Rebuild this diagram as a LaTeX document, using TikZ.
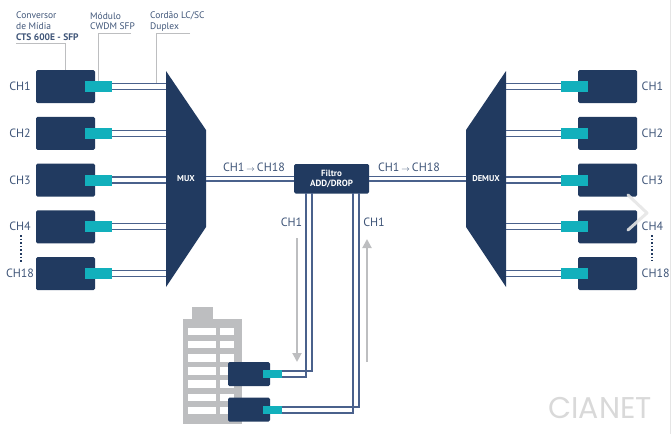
\documentclass[tikz,border=0pt]{standalone}
\usepackage{fontspec}
\setmainfont{PT Sans}
\newfontfamily\logofont{Poppins}
\usetikzlibrary{arrows.meta}
\definecolor{navy}{HTML}{213A60}
\definecolor{teal}{HTML}{12B0BC}
\definecolor{fiber}{HTML}{4A618C}
\definecolor{label}{HTML}{3F5578}
\definecolor{lead}{HTML}{BDBEC0}
\tikzset{
	conv/.style = {fill=navy, rounded corners=1.5, minimum width=59, minimum height=33, inner sep=0},
	smallconv/.style = {fill=navy, rounded corners=1.5, minimum width=42, minimum height=24, inner sep=0},
	sfp/.style = {fill=teal, minimum width=27, minimum height=11, inner sep=0},
	smallsfp/.style = {fill=teal, minimum width=19, minimum height=8, inner sep=0},
	fib/.style = {draw=fiber, line width=1.4},
	leader/.style = {draw=lead, line width=0.9},
	flow/.style = {draw=lead, line width=2, -{Triangle[length=9, width=9]}},
	chan/.style = {text=label, font=\fontsize{12}{14}\selectfont, inner sep=0},
	note/.style = {text=label, font=\fontsize{9.5}{10.5}\selectfont, align=left, anchor=north west, inner sep=0},
	white label/.style = {text=white, font=\bfseries\fontsize{8.5}{10.5}\selectfont, align=center, inner sep=0},
}
\begin{document}
\begin{tikzpicture}[x=1pt, y=-1pt]
	\useasboundingbox (0, 0) rectangle (671, 434);
	% building
	\fill [lead] (192, 307) rectangle (213, 320);
	\fill [lead] (183, 319) rectangle (242, 424);
	\foreach \r in {0,...,6}
	{
		\fill [white] (188, 328 + 13.1*\r) rectangle ++(28, 7.3);
		\fill [white] (220, 328 + 13.1*\r) rectangle ++(13.5, 7.3);
	}
	% mux and demux
	\fill [navy] (166, 71) -- (206, 130) -- (206, 227) -- (166, 287) -- cycle;
	\fill [navy] (506, 71) -- (466, 130) -- (466, 227) -- (506, 287) -- cycle;
	\coordinate (muxin) at (166, 178);
	\coordinate (muxout) at (206, 178);
	\coordinate (demuxin) at (466, 178);
	\coordinate (demuxout) at (506, 178);
	\node [white label] (muxname) at (186, 178.5) {MUX};
	\node [white label] (demuxname) at (486, 178.5) {DEMUX};
	% channels
	\foreach [count=\i] \y/\ch in {86.5/CH1, 133.25/CH2, 180/CH3, 226.75/CH4, 273.5/CH18}
	{
		\node [conv] (left\i) at (65.5, \y) {};
		\node [sfp] (lsfp\i) at (98.5, \y) {};
		\draw [fib] ([yshift=-3]lsfp\i.east) -- ([yshift=-3]lsfp\i.east -| muxin);
		\draw [fib] ([yshift=3]lsfp\i.east) -- ([yshift=3]lsfp\i.east -| muxin);
		\node [chan] (lname\i) at (20, \y) {\ch};
		\node [conv] (right\i) at (607.5, \y) {};
		\node [sfp] (rsfp\i) at (574.5, \y) {};
		\draw [fib] ([yshift=-3]rsfp\i.west) -- ([yshift=-3]rsfp\i.west -| demuxout);
		\draw [fib] ([yshift=3]rsfp\i.west) -- ([yshift=3]rsfp\i.west -| demuxout);
		\node [chan, anchor=west] (rname\i) at (641.5, \y) {\ch};
	}
	% filter
	\node [fill=navy, rounded corners=1.5, minimum width=75, minimum height=29.5, inner sep=0,
		white label, font=\bfseries\fontsize{9}{10.5}\selectfont] (filter) at (331.5, 178.75) {Filtro\\ADD/DROP};
	\draw [fib] ([yshift=-2.3]filter.west) -- ([yshift=-2.3]filter.west -| muxout);
	\draw [fib] ([yshift=2.3]filter.west) -- ([yshift=2.3]filter.west -| muxout);
	\draw [fib] ([yshift=-2.3]filter.east) -- ([yshift=-2.3]filter.east -| demuxin);
	\draw [fib] ([yshift=2.3]filter.east) -- ([yshift=2.3]filter.east -| demuxin);
	% add/drop branch
	\node [smallconv] (dropbox) at (249, 374) {};
	\node [smallconv] (addbox) at (249, 409.5) {};
	\node [smallsfp] (dropsfp) at (272.5, 374) {};
	\node [smallsfp] (addsfp) at (272.5, 410) {};
	\coordinate (dropa) at (306, 193);
	\coordinate (dropb) at (312, 193);
	\coordinate (adda) at (353, 193);
	\coordinate (addb) at (359, 193);
	\draw [fib] (dropa) |- ([yshift=-3]dropsfp.east);
	\draw [fib] (dropb) |- ([yshift=3]dropsfp.east);
	\draw [fib] (adda) |- ([yshift=-3]addsfp.east);
	\draw [fib] (addb) |- ([yshift=3]addsfp.east);
	\coordinate (downtop) at (297, 238);
	\coordinate (downend) at (297, 362);
	\coordinate (uptop) at (367, 239);
	\coordinate (upend) at (367, 362);
	\draw [flow] (downtop) -- (downend);
	\draw [flow] (upend) -- (uptop);
	\node [chan] (dropname) at (291.5, 222.5) {CH1};
	\node [chan] (addname) at (374, 222.5) {CH1};
	\node [chan] (lefttrunk) at (254, 167) {CH1\,\( \scriptstyle\rightarrow \)\,CH18};
	\node [chan] (righttrunk) at (409, 167) {CH1\,\( \scriptstyle\rightarrow \)\,CH18};
	% notes
	\node [note] (convnote) at (16, 12) {Conversor\\de Mídia\\[1pt]\textbf{CTS 600E - SFP}};
	\node [note] (sfpnote) at (90, 12) {Módulo\\CWDM SFP};
	\node [note] (cordnote) at (150, 12) {Cordão LC/SC\\Duplex};
	\coordinate (convend) at (16, 43.5);
	\coordinate (sfpend) at (131, 33.5);
	\coordinate (cordend) at (190, 33.5);
	\draw [leader] (convend) -| (left1.north);
	\draw [leader] (sfpend) -| (lsfp1.north);
	\draw [leader] (cordend) -| (156, 83);
	% dots
	\draw [navy, line width=1.6, dotted] (21, 235) -- (21, 262);
	\draw [navy, line width=1.6, dotted] (652, 235) -- (652, 261);
	% logo and slider arrow
	\node [text=black!15, font=\logofont\fontsize{30}{30}\selectfont, inner sep=0] (logo) at (600, 408) {CIANET};
	\draw [draw=black!10, opacity=0.9, line width=3, line cap=round, line join=round] (628, 195) -- (647, 213) -- (628, 230);
	\draw [black!10, line width=0.8] (670.5, 0) -- (670.5, 434);
\end{tikzpicture}
\end{document}
